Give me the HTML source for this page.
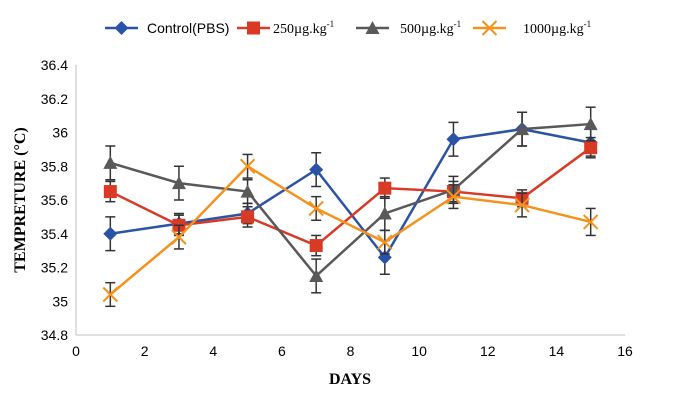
<!DOCTYPE html>
<html><head><meta charset="utf-8"><style>
body{margin:0;background:#fff;}
svg text{font-family:"Liberation Serif",serif;}
svg text.sans{font-family:"Liberation Sans",sans-serif;}
</style></head><body>
<svg id="chart" width="682" height="406" viewBox="0 0 682 406" xmlns="http://www.w3.org/2000/svg">
<g id="legend"></g>
<g id="axes"></g>
<g id="series"></g>
<text x="350" y="384" font-size="16" font-weight="bold" text-anchor="middle">DAYS</text>
<text transform="translate(25,200) rotate(-90)" font-size="16" font-weight="bold" text-anchor="middle">TEMPRETURE (°C)</text>
</svg>
<script>
const days=[1,3,5,7,9,11,13,15];
const seriesNames=["Control(PBS)","250µg.kg","500µg.kg","1000µg.kg"];
const control=[35.40,35.46,35.52,35.78,35.26,35.96,36.02,35.94];
const d250=[35.65,35.45,35.50,35.33,35.67,35.65,35.61,35.91];
const d500=[35.82,35.70,35.65,35.15,35.52,35.66,36.02,36.05];
const d1000=[35.04,35.38,35.80,35.55,35.35,35.62,35.57,35.47];
const errControl=[0.10,0.06,0.06,0.10,0.10,0.10,0.10,0.08];
const err250=[0.06,0.06,0.06,0.06,0.06,0.06,0.05,0.06];
const err500=[0.10,0.10,0.07,0.10,0.10,0.08,0.10,0.10];
const err1000=[0.07,0.07,0.07,0.07,0.07,0.07,0.07,0.08];
const yTicks=[34.8,35,35.2,35.4,35.6,35.8,36,36.2,36.4];
const yTickLabels=["34.8","35","35.2","35.4","35.6","35.8","36","36.2","36.4"];
const xTicks=[0,2,4,6,8,10,12,14,16];

const NS="http://www.w3.org/2000/svg";
const x=v=>76+v*(549/16);
const y=v=>335-(v-34.8)*(270/1.6);
function mk(tag,attrs,parent){const e=document.createElementNS(NS,tag);for(const k in attrs)e.setAttribute(k,attrs[k]);parent.appendChild(e);return e;}
const axes=document.getElementById('axes');
let a=mk('line',{x1:x(0),y1:y(34.8),x2:x(16),y2:y(34.8),stroke:'#bfbfbf'},axes);


a=mk('line',{x1:x(0),y1:y(34.8),x2:x(0),y2:y(36.4),stroke:'#bfbfbf'},axes);


yTicks.forEach((t,i)=>{const e=mk('text',{x:x(0)-8,y:y(t)+5,'font-size':14,'text-anchor':'end',class:'sans'},axes);e.textContent=yTickLabels[i];

});
xTicks.forEach(t=>{const e=mk('text',{x:x(t),y:y(34.8)+21,'font-size':14,'text-anchor':'middle',class:'sans'},axes);e.textContent=String(t);

});

const defs=[{v:control,e:errControl,c:'#2a52a6',m:'diamond'},{v:d250,e:err250,c:'#d93a26',m:'square'},{v:d500,e:err500,c:'#595959',m:'triangle'},{v:d1000,e:err1000,c:'#f5921e',m:'x'}];
function marker(g,type,cx,cy,c){
 if(type==='diamond')return mk('polygon',{points:`${cx},${cy-7} ${cx+7},${cy} ${cx},${cy+7} ${cx-7},${cy}`,fill:c},g);
 if(type==='square')return mk('rect',{x:cx-6.5,y:cy-6.5,width:13,height:13,fill:c},g);
 if(type==='triangle')return mk('polygon',{points:`${cx},${cy-7} ${cx+7},${cy+6} ${cx-7},${cy+6}`,fill:c},g);
 const gg=mk('g',{stroke:c,'stroke-width':2},g);
 mk('line',{x1:cx-7,y1:cy-7,x2:cx+7,y2:cy+7},gg);mk('line',{x1:cx-7,y1:cy+7,x2:cx+7,y2:cy-7},gg);return gg;
}
const sg=document.getElementById('series');
defs.forEach((d,si)=>{
 const g=mk('g',{},sg);
 
 
 d.v.forEach((v,i)=>{const eb=mk('g',{stroke:'#333','stroke-width':1.5},g);
  
  
  const X=x(days[i]);mk('line',{x1:X,x2:X,y1:y(v-d.e[i]),y2:y(v+d.e[i])},eb);
  mk('line',{x1:X-5,x2:X+5,y1:y(v-d.e[i]),y2:y(v-d.e[i])},eb);mk('line',{x1:X-5,x2:X+5,y1:y(v+d.e[i]),y2:y(v+d.e[i])},eb);});
 const p=mk('polyline',{points:d.v.map((v,i)=>x(days[i])+','+y(v)).join(' '),fill:'none',stroke:d.c,'stroke-width':2.5},g);
 
 
 d.v.forEach((v,i)=>{const m=marker(g,d.m,x(days[i]),y(v),d.c);
  
  });
});
const lg=document.getElementById('legend');
const lx=[105,237,356,473];const tx=[147,273,400,523];
defs.forEach((d,i)=>{const g=mk('g',{},lg);
 
 
 mk('line',{x1:lx[i],x2:lx[i]+33,y1:28,y2:28,stroke:d.c,'stroke-width':2.5},g);
 const m=marker(g,d.m,lx[i]+16.5,28,d.c);
 const t=mk('text',{x:tx[i],y:33,'font-size':14},g);
 if(i===0){t.setAttribute('class','sans');t.textContent=seriesNames[i];}
 else{t.textContent=seriesNames[i];const s=mk('tspan',{'font-size':9,dy:-6},t);s.textContent='-1';}
});
</script>
</body></html>
